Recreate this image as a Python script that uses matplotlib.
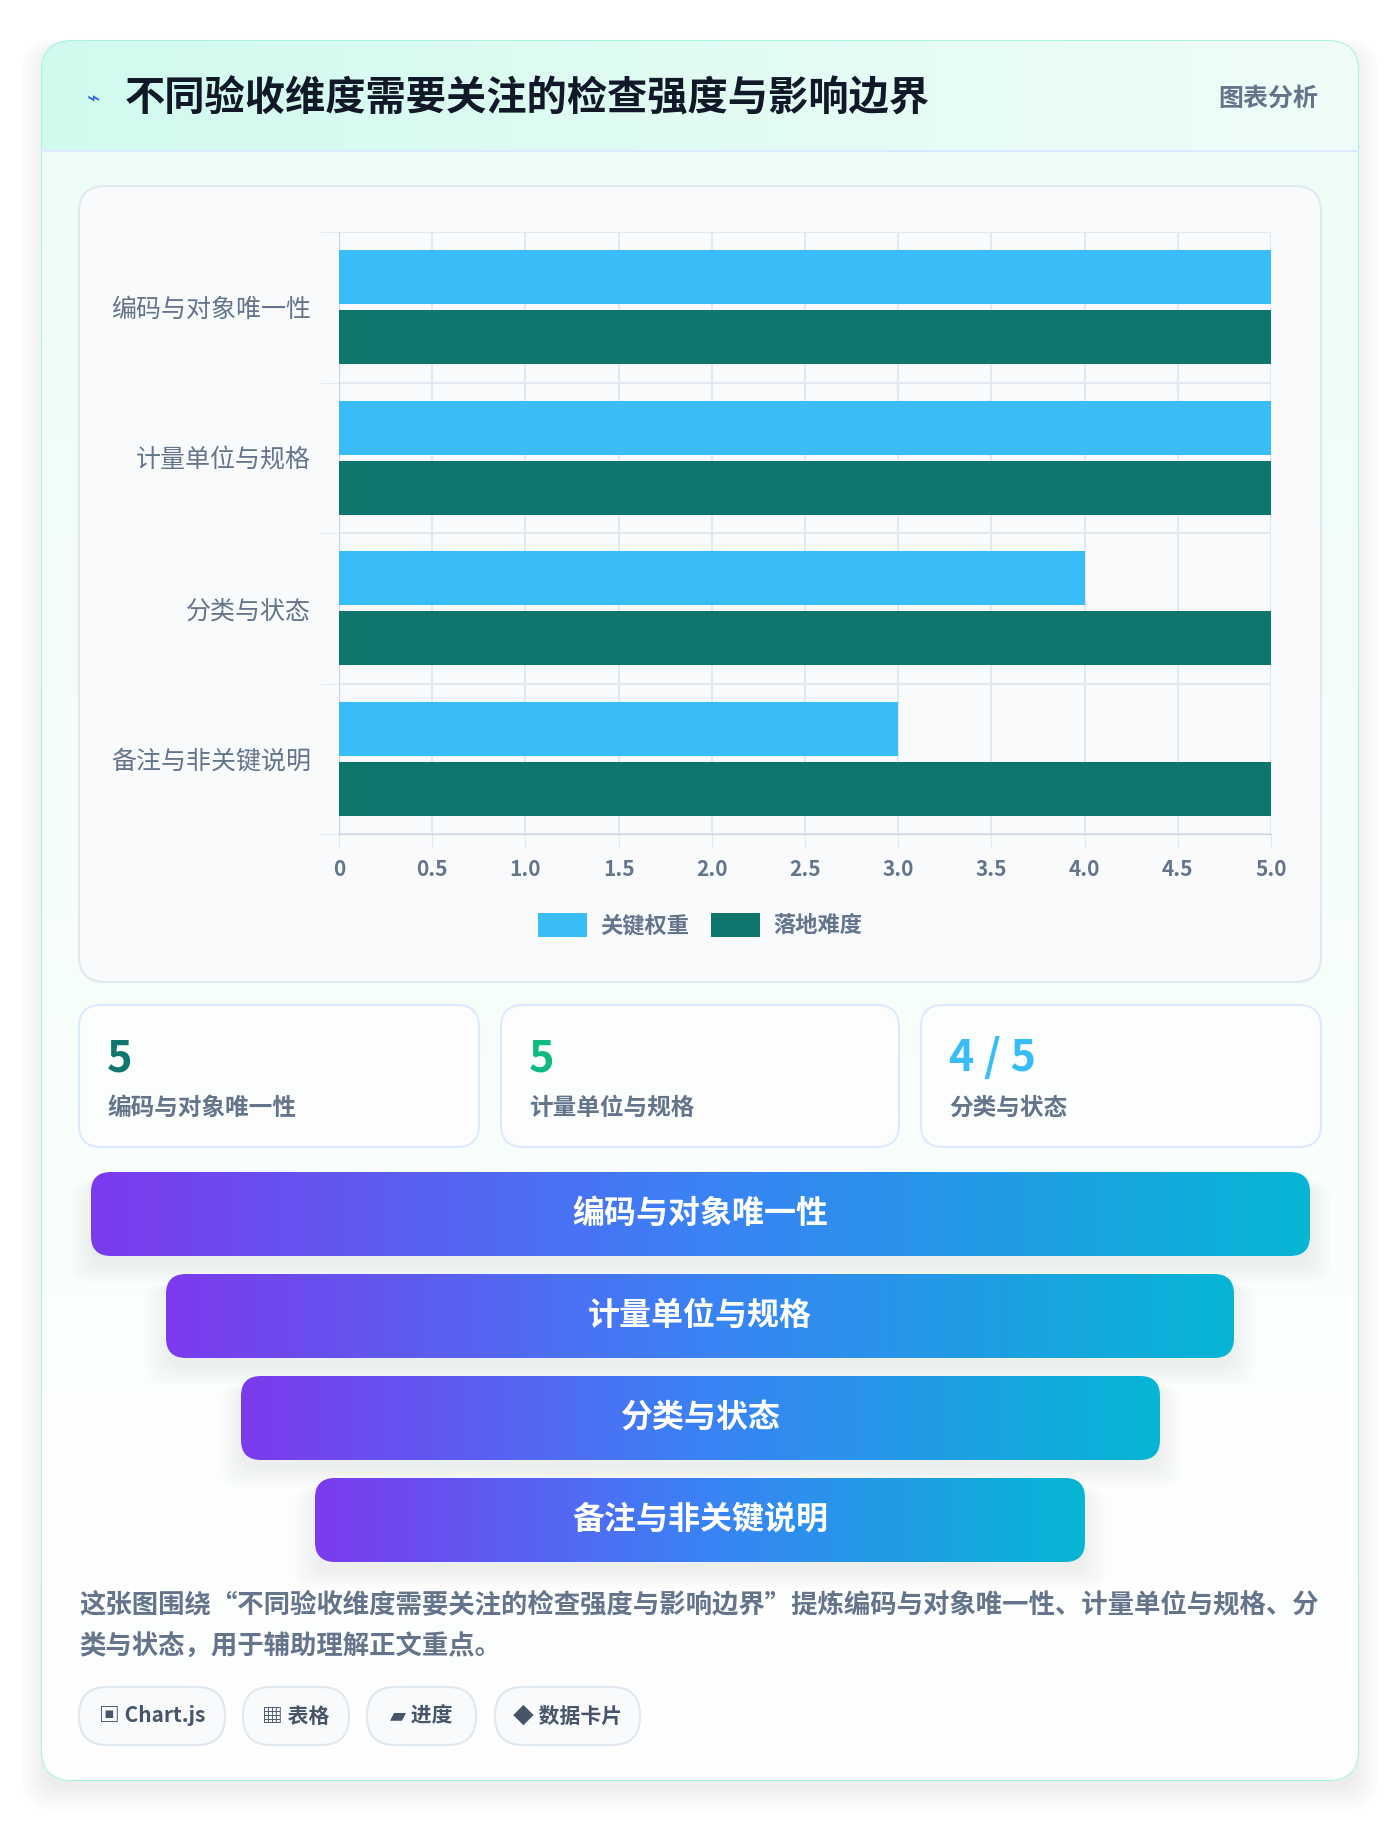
import matplotlib
matplotlib.use("Agg")
import matplotlib.pyplot as plt
import numpy as np
from matplotlib.patches import FancyBboxPatch, Rectangle
from matplotlib.colors import LinearSegmentedColormap

plt.rcParams['font.family'] = ['Noto Sans CJK SC', 'DejaVu Sans']

title = "不同验收维度需要关注的检查强度与影响边界"
categories = ["编码与对象唯一性", "计量单位与规格", "分类与状态", "备注与非关键说明"]
key_weight = [5, 5, 4, 3]
difficulty = [5, 5, 5, 5]
series_names = ["关键权重", "落地难度"]
x_ticks = [0, 0.5, 1.0, 1.5, 2.0, 2.5, 3.0, 3.5, 4.0, 4.5, 5.0]
x_ticklabels = ["0", "0.5", "1.0", "1.5", "2.0", "2.5", "3.0", "3.5", "4.0", "4.5", "5.0"]
stat_values = ["5", "5", "4 / 5"]
stat_labels = ["编码与对象唯一性", "计量单位与规格", "分类与状态"]
funnel_labels = categories
paragraph = ["这张图围绕“不同验收维度需要关注的检查强度与影响边界”提炼编码与对象唯一性、计量单位与规格、分",
             "类与状态，用于辅助理解正文重点。"]
tags = ["▣ Chart.js", "▦ 表格", "▰ 进度", "◆ 数据卡片"]

W, H = 1400, 1822
fig = plt.figure(figsize=(W/100, H/100), dpi=100)
bg = fig.add_axes([0, 0, 1, 1])
bg.set_xlim(0, W); bg.set_ylim(H, 0); bg.axis('off')

def rbox(x0, y0, x1, y1, r, fc, ec='none', lw=1, z=1, alpha=1):
    p = FancyBboxPatch((x0+r, y0+r), x1-x0-2*r, y1-y0-2*r, boxstyle=f"round,pad={r}",
                       fc=fc, ec=ec, lw=lw, zorder=z, alpha=alpha)
    bg.add_patch(p); return p

# shadow + card
for i in range(6):
    rbox(42-i*4, 50-i*2, 1358+i*4, 1790+i*4, 30, '#000000', z=0, alpha=0.012)
card = rbox(42, 41, 1358, 1780, 30, '#fbfefd', ec='#a7f3e4', lw=1.5, z=1)
hdr = bg.imshow(np.linspace(0, 1, 256)[None, :], extent=[42, 1358, 151, 41],
                cmap=LinearSegmentedColormap.from_list('h', ['#d1faee', '#f0fdf8']), aspect='auto', zorder=2)
hdr.set_clip_path(card)
body = bg.imshow(np.linspace(0, 1, 256)[:, None], extent=[42, 1358, 1780, 151],
                 cmap=LinearSegmentedColormap.from_list('b', ['#eefdf6', '#ffffff']), aspect='auto', zorder=2)
body.set_clip_path(card)
bg.plot([42, 1358], [151, 151], color='#dbeafe', lw=1.5, zorder=3)
bg.text(93, 100, "⌁", color='#2563eb', fontsize=16, ha='center', va='center', zorder=4, family=['DejaVu Sans'])
bg.text(125, 99, title, fontsize=29, fontweight='bold', color='#111827', va='center', zorder=4)
bg.text(1318, 99, "图表分析", fontsize=18, fontweight='bold', color='#64748b', va='center', ha='right', zorder=4)

# chart panel
rbox(79, 186, 1321, 982, 26, '#f8fafc', ec='#e2e8f0', lw=1.5, z=3)
ax = fig.add_axes([339/W, 1-834/H, (1271-339)/W, (834-232)/H])
ax.set_facecolor('none')
y = np.arange(len(categories))
bh = 0.36
ax.barh(y - 0.2, key_weight, height=bh, color='#38bdf8', label=series_names[0], zorder=3)
ax.barh(y + 0.2, difficulty, height=bh, color='#0f766e', label=series_names[1], zorder=3)
ax.set_ylim(len(categories)-0.5, -0.5)
ax.set_xlim(0, 5)
ax.set_xticks(x_ticks); ax.set_xticklabels(x_ticklabels, fontsize=15, fontweight='bold', color='#64748b')
ax.set_yticks(y); ax.set_yticklabels(categories, fontsize=18, color='#64748b')
ax.set_yticks(np.arange(len(categories)+1) - 0.5, minor=True)
ax.grid(True, axis='x', color='#e2e8f0', lw=1.5, zorder=0)
ax.grid(True, axis='y', which='minor', color='#e2e8f0', lw=1.5, zorder=0)
ax.tick_params(axis='y', which='major', length=0, pad=20)
ax.tick_params(axis='y', which='minor', length=14, color='#e2e8f0')
ax.tick_params(axis='x', length=10, color='#e2e8f0', pad=8)
for s in ['top', 'right']: ax.spines[s].set_visible(False)
for s in ['left', 'bottom']: ax.spines[s].set_color('#cbd5e1')
leg = fig.legend(loc='center', bbox_to_anchor=(700/W, 1-925/H), ncol=2, frameon=False,
                 prop={'size': 16, 'weight': 'bold'}, handlelength=2.2, handleheight=1.3,
                 columnspacing=1.0, handletextpad=0.6)
for t in leg.get_texts(): t.set_color('#64748b')

# stat cards
sx = [(79, 479), (501, 899), (921, 1321)]
scol = ['#0f766e', '#10b981', '#38bdf8']
for (x0, x1), v, lab, c in zip(sx, stat_values, stat_labels, scol):
    rbox(x0, 1005, x1, 1147, 22, '#fbfefd', ec='#dbeafe', lw=1.5, z=3)
    bg.text(x0+28, 1058, v, fontsize=31, fontweight='heavy', color=c, va='center', zorder=4)
    bg.text(x0+28, 1108, lab, fontsize=17, fontweight='bold', color='#64748b', va='center', zorder=4)

# funnel
fx = [(91, 1310), (166, 1234), (241, 1160), (315, 1085)]
fy = [1214, 1316, 1418, 1520]
gcm = LinearSegmentedColormap.from_list('g', ['#7c3aed', '#3b82f6', '#06b6d4'])
for (x0, x1), yc, lab in zip(fx, fy, funnel_labels):
    for i in range(5):
        rbox(x0-i*5, yc-42+10, x1+i*5, yc+42+10+i*4, 20, '#64748b', z=3, alpha=0.02)
    p = rbox(x0, yc-42, x1, yc+42, 20, 'none', z=4)
    im = bg.imshow(np.linspace(0, 1, 256)[None, :], extent=[x0, x1, yc+42, yc-42], cmap=gcm, aspect='auto', zorder=4)
    im.set_clip_path(p)
    bg.text((x0+x1)/2, yc, lab, fontsize=23, fontweight='bold', color='white', ha='center', va='center', zorder=5)

for i, line in enumerate(paragraph):
    bg.text(79, 1605+i*42, line, fontsize=19, fontweight='bold', color='#64748b', va='center', zorder=4)

tx = [(79, 225), (243, 349), (367, 476), (495, 640)]
for (x0, x1), t in zip(tx, tags):
    rbox(x0, 1687, x1, 1745, 28, '#f8fafc', ec='#e2e8f0', lw=1.5, z=3)
    bg.text((x0+x1)/2, 1716, t, fontsize=15, fontweight='bold', color='#475569', ha='center', va='center', zorder=4,
            family=['Noto Sans CJK SC', 'DejaVu Sans'])

fig.savefig('out.png', dpi=100)
